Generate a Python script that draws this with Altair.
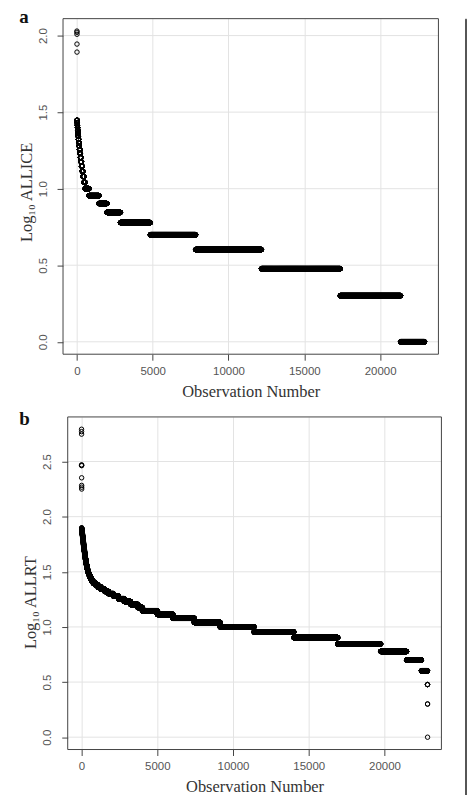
import altair as alt
import numpy as np
import pandas as pd

# ---------------- data ----------------
# Panel a: ALLICE raw values (sorted descending) and number of observations sharing each value
allice_values = [107, 105, 102, 88, 78,
                 28, 27, 26, 25, 24, 23, 22, 21, 20, 19, 18, 17, 16, 15, 14, 13, 12, 11,
                 10, 9, 8, 7, 6, 5, 4, 3, 2, 1]
allice_counts = [1, 1, 1, 1, 1,
                 10, 10, 12, 12, 15, 15, 18, 20, 25, 25, 30, 30, 35, 40, 45, 52, 62, 80,
                 260, 650, 530, 890, 1970, 2990, 4340, 5200, 3980, 1580]

# Panel b: ALLRT raw values (sorted descending) and their frequencies
allrt_values = [620, 590, 560, 295, 292, 290, 225, 192, 185, 178,
                79, 78, 77, 76, 75, 74, 73, 72, 71, 70, 69, 68, 67, 66, 65, 64,
                63, 62, 61, 60, 59, 58, 57, 56, 55, 54, 53, 52, 51,
                50, 49, 48, 47, 46, 45, 44, 43, 42, 41,
                40, 39, 38, 37, 36, 35, 34, 33,
                32, 31, 30, 29, 28, 27, 26,
                25, 24, 23, 22, 21, 20, 19, 18, 17, 16, 15,
                14, 13, 12, 11, 10, 9, 8, 7, 6, 5, 4, 3, 2, 1]
allrt_counts = [1, 1, 1, 1, 1, 1, 1, 1, 1, 1,
                3, 3, 4, 4, 4, 5, 5, 5, 5, 6, 6, 6, 6, 6, 7, 7,
                5, 5, 5, 6, 6, 6, 6, 7, 7, 7, 8, 8, 8,
                8, 8, 9, 9, 10, 10, 11, 11, 12, 12,
                13, 14, 15, 16, 17, 18, 20, 22,
                30, 35, 40, 48, 56, 66, 80,
                150, 170, 200, 240, 260, 320, 330, 380, 420, 480, 300,
                990, 1020, 1410, 1710, 2240, 2630, 2900, 2830, 1710, 980, 400, 4, 2, 1]

x_ticks = [0, 5000, 10000, 15000, 20000]
ya_ticks = [0.0, 0.5, 1.0, 1.5, 2.0]
yb_ticks = [0.0, 0.5, 1.0, 1.5, 2.0, 2.5]


def build(values, counts):
    v = np.repeat(np.array(values, dtype=float), counts)
    return pd.DataFrame({"obs": np.arange(1, len(v) + 1), "logv": np.log10(v)})


def ext(lo, hi):
    p = 0.04 * (hi - lo)
    return [float(lo - p), float(hi + p)]


df_a = build(allice_values, allice_counts)
df_b = build(allrt_values, allrt_counts)

SERIF = "Liberation Serif"
SANS = "Liberation Sans"
ORIGIN = 66.7      # page x of the shared panel origin
BOX = "#444"


def panel(df, ytitle, yticks, letter, w, h, shift, letter_dy, title_y):
    """shift: how far (px) the plot box starts left of the shared origin."""
    xdom = ext(df["obs"].min(), df["obs"].max())
    ydom = ext(df["logv"].min(), df["logv"].max())
    gw = w - shift
    xscale = alt.Scale(domain=xdom, nice=False, zero=False, range=[-shift, gw])
    yscale = alt.Scale(domain=ydom, nice=False, zero=False)
    yaxis = alt.Axis(values=yticks, format=".1f", title=ytitle,
                     labelAngle=-90, labelAlign="center",
                     labelBaseline="bottom", labelPadding=9,
                     titlePadding=3, titleY=title_y, offset=shift, grid=False)

    pts = alt.Chart(df).mark_point(
        shape="circle", filled=False, stroke="black", strokeWidth=1,
        size=20, opacity=1).encode(
        x=alt.X("obs:Q", scale=xscale,
                axis=alt.Axis(values=x_ticks, format="d", title="Observation Number",
                              labelPadding=5, titlePadding=7)),
        y=alt.Y("logv:Q", scale=yscale, axis=yaxis),
    )
    # horizontal grid lines at the y tick values, spanning the plot box
    grid = alt.Chart(pd.DataFrame({"logv": yticks})).mark_rule(
        color="#e3e3e3", strokeWidth=1).encode(
        y=alt.Y("logv:Q", scale=yscale, axis=yaxis),
        x=alt.value(-shift), x2=alt.value(gw))
    box = alt.Chart(pd.DataFrame({"t": [letter]})).mark_rect(
        fillOpacity=0, stroke=BOX, strokeWidth=1).encode(
        x=alt.value(-shift), x2=alt.value(gw), y=alt.value(0), y2=alt.value(h))
    lab = alt.Chart(pd.DataFrame({"t": [letter]})).mark_text(
        font=SERIF, fontSize=19, fontWeight="bold", color="#111",
        align="left", baseline="alphabetic").encode(
        text="t:N", x=alt.value(18 - ORIGIN), y=alt.value(letter_dy))
    # invisible anchor fixing the figure's left margin
    anchor = alt.Chart(pd.DataFrame({"t": [letter]})).mark_rule(opacity=0).encode(
        x=alt.value(10 - ORIGIN), y=alt.value(0), y2=alt.value(1))
    return alt.layer(grid, pts, box, lab, anchor).properties(
        width=gw, height=h, view=alt.ViewBackground(stroke="transparent"))


pa = panel(df_a, "Log₁₀ ALLICE", ya_ticks, "a", 377, 337, 4.7, 4, 174)
pb = panel(df_b, "Log₁₀ ALLRT", yb_ticks, "b", 375.3, 334, 0, 8, 186)

left = alt.concat(pa, pb, columns=1, align="none", spacing=8)

frame = alt.Chart(pd.DataFrame({"v": [0]})).mark_point(opacity=0).encode(
    x=alt.X("v:Q", axis=None), y=alt.Y("v:Q", axis=None)
).properties(width=1, height=790,
             view=alt.ViewBackground(stroke="#555", strokeWidth=1))

chart = alt.hconcat(left, frame, spacing=18).properties(
    padding={"left": 10, "top": 5, "right": 0, "bottom": 0}
).configure_axis(
    domain=False, ticks=True, tickColor=BOX, tickSize=6, tickWidth=1,
    grid=True, gridColor="#e3e3e3", gridWidth=1,
    labelFont=SANS, labelFontSize=11.5, labelColor="#555",
    labelFlush=False,
    titleFont=SERIF, titleFontSize=16.5, titleFontWeight="normal", titleColor="#333"
)

chart.save("out.html", embed_options={"renderer": "svg", "actions": False})
